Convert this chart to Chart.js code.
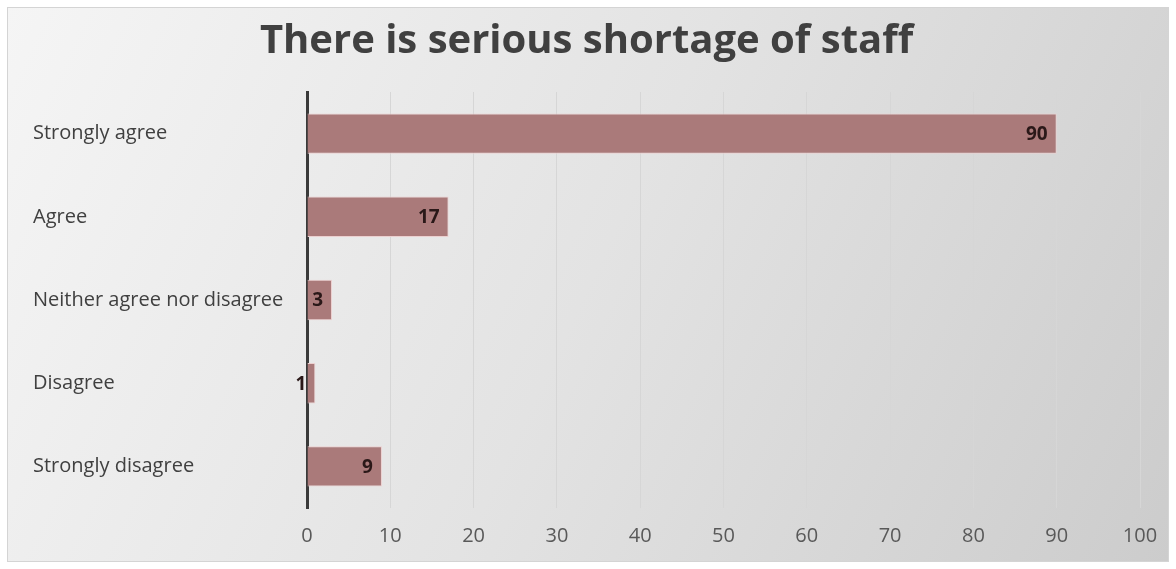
<!DOCTYPE html>
<html>
<head>
<meta charset="utf-8">
<script src="https://cdn.jsdelivr.net/npm/chart.js@4"></script>
<style>
  html,body{margin:0;padding:0;background:#fff;}
  #wrap{width:1176px;height:569px;position:relative;}
</style>
</head>
<body>
<div id="wrap"><canvas id="c" width="1176" height="569"></canvas></div>
<script>
/* survey bar: "There is serious shortage of staff" */
const CATEGORIES=['Strongly agree','Agree','Neither agree nor disagree','Disagree','Strongly disagree'];
const VALUES=[90,17,3,1,9];
const X_MIN=0, X_MAX=100, X_STEP=10;

const BAR='#aa7a7a', BAR_EDGE='#ecd0d0', TXT='#404040', GRID='#d6d6d6';
const FONT="'Open Sans', sans-serif";

const frame={
  id:'frame',
  beforeDraw(chart){
    const {ctx,width,height}=chart;
    ctx.save();
    ctx.fillStyle='#fff'; ctx.fillRect(0,0,width,height);
    const g=ctx.createLinearGradient(7,7,width-7,height-7);
    g.addColorStop(0,'#f5f5f5');
    g.addColorStop(0.5,'#e3e3e3');
    g.addColorStop(1,'#cccccc');
    ctx.fillStyle=g; ctx.fillRect(7,7,width-14,height-14);
    ctx.strokeStyle='#d4d4d4'; ctx.lineWidth=1;
    ctx.strokeRect(7.5,7.5,width-15,height-15);
    ctx.restore();
  }
};

const barLabels={
  id:'barLabels',
  afterDatasetsDraw(chart){
    const {ctx}=chart;
    const meta=chart.getDatasetMeta(0);
    ctx.save();
    ctx.font='bold 19px '+FONT;
    ctx.fillStyle='#2a1818';
    ctx.textAlign='right'; ctx.textBaseline='middle';
    meta.data.forEach((b,i)=>{
      ctx.fillText(String(VALUES[i]),b.x-9,b.y+1);
    });
    ctx.restore();
  }
};

new Chart(document.getElementById('c'),{
  type:'bar',
  data:{labels:CATEGORIES,datasets:[{data:VALUES,backgroundColor:BAR,borderColor:BAR_EDGE,borderWidth:1,
    barPercentage:0.5,categoryPercentage:0.97}]},
  options:{
    indexAxis:'y',responsive:false,animation:false,
    layout:{padding:{left:33,right:36,top:10,bottom:5}},
    plugins:{
      legend:{display:false},tooltip:{enabled:false},
      title:{display:true,text:'There is serious shortage of staff',color:TXT,
        font:{family:FONT,size:40,weight:'bold'},padding:{top:8,bottom:26}}
    },
    scales:{
      x:{min:X_MIN,max:X_MAX,
        ticks:{stepSize:X_STEP,color:'#595959',font:{family:FONT,size:20},padding:16},
        grid:{color:GRID,drawTicks:false},border:{display:false}},
      y:{
        ticks:{color:TXT,font:{family:FONT,size:20},crossAlign:'far',padding:0},
        grid:{display:false,drawTicks:false},
        border:{display:true,color:'#3a3a3a',width:3},
        afterFit(s){s.width=274;}
      }
    }
  },
  plugins:[frame,barLabels]
});
</script>
</body>
</html>
